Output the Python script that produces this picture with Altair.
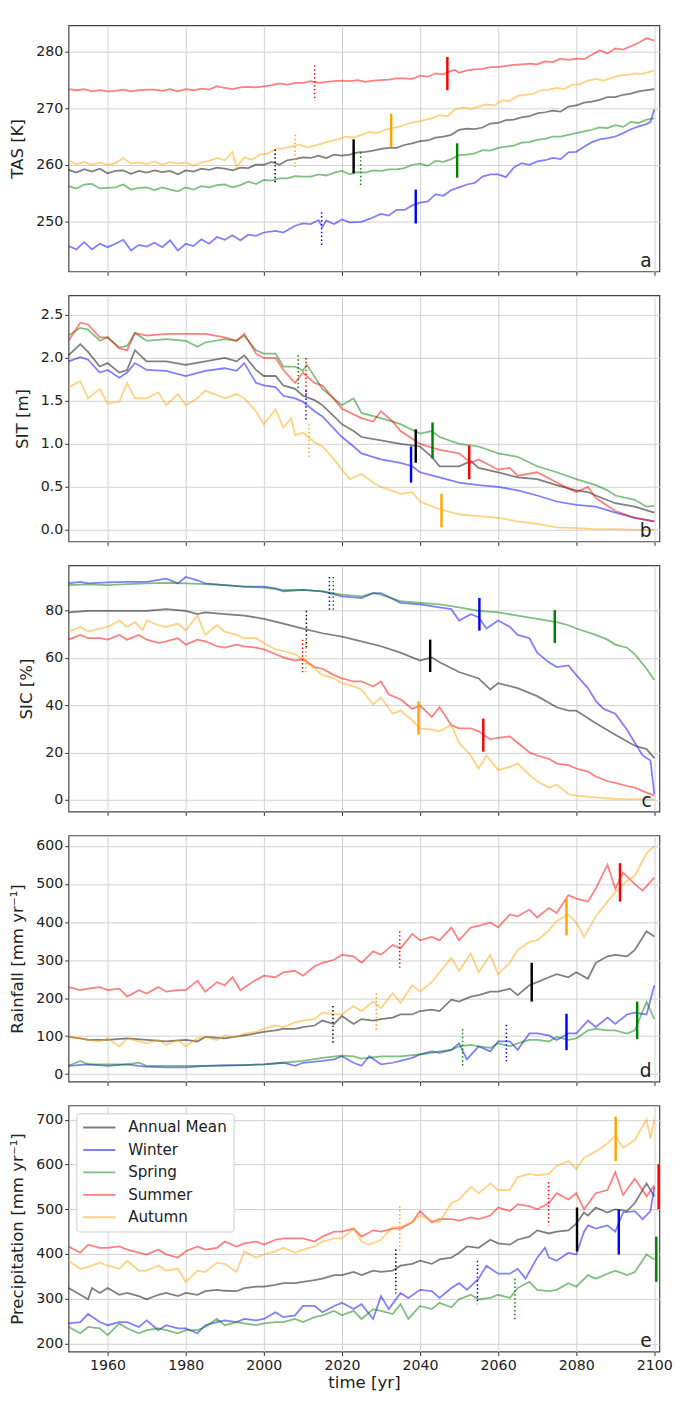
import altair as alt
import pandas as pd

SEASONS = ["Annual Mean", "Winter", "Spring", "Summer", "Autumn"]
COLORS = ["black", "blue", "green", "red", "orange"]
X_TICKS = [1960, 1980, 2000, 2020, 2040, 2060, 2080, 2100]
X_DOMAIN = [1950, 2101.3]

# ---------------- panel a : TAS [K] ----------------
TAS_ANNUAL = [(1950, 259.1), (1952, 258.6), (1954, 259.2), (1956, 258.8), (1958, 259.3), (1960, 258.5), (1962, 258.9), (1964, 259.0), (1966, 258.4), (1968, 258.9), (1970, 258.6), (1972, 259.0), (1974, 258.7), (1976, 258.9), (1978, 258.3), (1980, 259.0), (1982, 258.8), (1984, 259.3), (1986, 259.1), (1988, 259.5), (1990, 259.3), (1992, 259.0), (1994, 259.5), (1996, 259.4), (1998, 260.0), (2000, 260.0), (2002, 260.5), (2004, 260.0), (2006, 260.8), (2008, 261.0), (2010, 261.3), (2012, 261.2), (2014, 261.6), (2016, 261.2), (2018, 261.8), (2020, 261.6), (2022, 261.8), (2024, 262.2), (2026, 262.3), (2028, 262.5), (2030, 262.8), (2032, 263.0), (2034, 263.0), (2036, 263.5), (2038, 263.8), (2040, 264.2), (2042, 264.3), (2044, 264.8), (2046, 265.0), (2048, 265.3), (2050, 266.2), (2052, 266.4), (2054, 266.3), (2056, 266.6), (2058, 267.3), (2060, 267.4), (2062, 267.9), (2064, 268.0), (2066, 268.4), (2068, 268.6), (2070, 269.1), (2072, 269.3), (2074, 269.6), (2076, 269.4), (2078, 270.3), (2080, 270.5), (2082, 271.0), (2084, 271.2), (2086, 271.5), (2088, 272.0), (2090, 272.0), (2092, 272.4), (2094, 272.6), (2096, 273.0), (2098, 273.2), (2100, 273.4)]
TAS_WINTER = [(1950, 245.6), (1952, 245.0), (1954, 246.3), (1956, 245.0), (1958, 246.0), (1960, 245.4), (1962, 246.0), (1964, 246.7), (1966, 244.8), (1968, 245.8), (1970, 245.5), (1972, 246.2), (1974, 245.4), (1976, 246.6), (1978, 244.8), (1980, 246.0), (1982, 245.6), (1984, 246.8), (1986, 246.0), (1988, 247.2), (1990, 246.7), (1992, 247.5), (1994, 246.6), (1996, 247.6), (1998, 247.4), (2000, 248.0), (2003, 248.3), (2005, 248.0), (2008, 249.2), (2010, 249.6), (2012, 249.5), (2014, 250.2), (2015, 249.0), (2016, 250.1), (2018, 249.5), (2020, 250.3), (2022, 249.8), (2025, 249.9), (2027, 250.4), (2030, 251.3), (2032, 251.0), (2034, 252.0), (2036, 252.0), (2038, 252.8), (2040, 253.3), (2042, 253.5), (2044, 254.8), (2046, 254.5), (2048, 255.5), (2050, 256.0), (2052, 256.5), (2054, 256.8), (2056, 257.9), (2058, 258.3), (2060, 258.3), (2062, 257.8), (2064, 259.5), (2066, 260.3), (2068, 260.0), (2070, 260.6), (2072, 260.8), (2074, 261.2), (2076, 261.0), (2078, 262.2), (2080, 262.3), (2082, 263.2), (2084, 264.0), (2086, 264.5), (2088, 264.7), (2090, 265.0), (2092, 265.6), (2094, 266.3), (2096, 266.8), (2098, 267.2), (2099, 267.6), (2100, 269.8)]
TAS_SPRING = [(1950, 256.2), (1952, 255.8), (1954, 256.5), (1956, 256.6), (1958, 255.8), (1960, 255.9), (1962, 256.0), (1964, 256.5), (1966, 255.6), (1968, 255.9), (1970, 256.0), (1972, 255.5), (1974, 256.0), (1976, 255.6), (1978, 255.3), (1980, 256.0), (1982, 255.6), (1984, 256.2), (1986, 256.0), (1988, 256.4), (1990, 256.5), (1992, 256.0), (1994, 256.4), (1996, 257.0), (1998, 256.6), (2000, 257.3), (2002, 257.2), (2004, 257.6), (2006, 257.6), (2008, 258.0), (2010, 257.9), (2012, 257.9), (2014, 258.3), (2016, 258.1), (2018, 258.6), (2020, 258.9), (2022, 258.3), (2024, 258.7), (2026, 258.6), (2028, 259.0), (2030, 258.9), (2032, 259.2), (2034, 259.2), (2036, 259.4), (2038, 260.0), (2040, 260.2), (2042, 259.8), (2044, 260.7), (2046, 260.5), (2048, 261.0), (2050, 261.7), (2052, 261.8), (2054, 262.0), (2056, 262.6), (2058, 262.5), (2060, 263.0), (2062, 263.2), (2064, 263.4), (2066, 263.9), (2068, 264.0), (2070, 264.4), (2072, 264.6), (2074, 265.0), (2076, 265.0), (2078, 265.3), (2080, 265.6), (2082, 265.9), (2084, 266.2), (2086, 266.6), (2088, 266.5), (2090, 267.0), (2092, 266.7), (2094, 267.6), (2096, 267.4), (2098, 268.0), (2100, 268.2)]
TAS_SUMMER = [(1950, 273.4), (1952, 273.2), (1954, 273.4), (1956, 273.0), (1958, 273.2), (1960, 273.0), (1962, 273.1), (1964, 273.3), (1966, 273.0), (1968, 273.2), (1970, 273.3), (1972, 273.3), (1974, 273.1), (1976, 273.4), (1978, 273.0), (1980, 273.4), (1982, 273.2), (1984, 273.5), (1986, 273.3), (1988, 273.9), (1990, 273.6), (1992, 273.4), (1994, 273.7), (1996, 273.8), (1998, 273.7), (2000, 273.9), (2002, 274.1), (2004, 274.4), (2006, 274.2), (2008, 274.5), (2010, 274.5), (2012, 274.8), (2014, 274.5), (2016, 274.7), (2018, 274.8), (2020, 274.9), (2022, 274.8), (2024, 275.0), (2026, 274.7), (2028, 274.9), (2030, 275.0), (2032, 275.1), (2034, 275.3), (2036, 275.3), (2038, 275.2), (2040, 275.8), (2042, 275.6), (2044, 276.2), (2046, 276.0), (2047, 276.4), (2049, 276.8), (2050, 276.3), (2052, 276.7), (2054, 276.9), (2056, 277.0), (2058, 277.3), (2060, 277.3), (2062, 277.5), (2064, 277.7), (2066, 277.8), (2068, 277.9), (2070, 277.8), (2072, 278.3), (2074, 278.2), (2076, 278.8), (2078, 278.6), (2080, 278.8), (2082, 278.7), (2084, 279.5), (2086, 280.3), (2088, 279.7), (2090, 280.6), (2092, 280.4), (2094, 281.0), (2096, 281.6), (2098, 282.4), (2100, 282.0)]
TAS_AUTUMN = [(1950, 260.8), (1952, 260.1), (1954, 260.5), (1956, 260.0), (1958, 260.4), (1960, 260.0), (1962, 260.3), (1964, 261.2), (1966, 260.2), (1968, 260.4), (1970, 260.1), (1972, 260.6), (1974, 260.0), (1976, 260.5), (1978, 260.2), (1980, 260.4), (1982, 259.8), (1984, 260.4), (1986, 260.7), (1988, 261.2), (1990, 260.8), (1992, 262.3), (1993, 259.6), (1995, 261.3), (1997, 260.9), (1999, 261.8), (2001, 262.0), (2003, 262.8), (2005, 262.9), (2007, 263.2), (2009, 263.6), (2011, 263.1), (2013, 263.4), (2015, 263.8), (2017, 264.2), (2019, 264.5), (2021, 265.0), (2023, 264.8), (2025, 265.3), (2027, 265.8), (2029, 265.6), (2031, 266.2), (2033, 266.5), (2035, 266.8), (2037, 267.3), (2039, 267.6), (2041, 267.9), (2043, 268.2), (2045, 268.8), (2047, 268.6), (2049, 269.8), (2051, 270.1), (2053, 269.9), (2055, 270.3), (2057, 270.7), (2059, 270.5), (2061, 271.4), (2063, 271.3), (2065, 272.2), (2067, 272.4), (2069, 272.6), (2071, 273.2), (2073, 273.3), (2075, 273.6), (2077, 273.4), (2079, 274.2), (2081, 274.3), (2083, 274.9), (2085, 275.2), (2087, 274.9), (2089, 275.4), (2091, 275.8), (2093, 275.9), (2095, 276.2), (2097, 276.1), (2099, 276.5), (2100, 276.7)]
# markers: (season, style, year, from, to)
TAS_MARKS = [("Summer", "dot", 2013.0, 277.6, 271.6), ("Summer", "solid", 2047.0, 279.1, 273.2),
             ("Autumn", "dot", 2008.0, 265.3, 259.6), ("Autumn", "solid", 2032.6, 269.0, 263.1),
             ("Annual Mean", "dot", 2002.9, 262.7, 256.9), ("Annual Mean", "solid", 2023.0, 264.5, 258.5),
             ("Spring", "dot", 2024.8, 262.2, 256.2), ("Spring", "solid", 2049.5, 263.8, 257.7),
             ("Winter", "dot", 2014.8, 251.6, 245.7), ("Winter", "solid", 2038.9, 255.6, 249.6)]

# ---------------- panel b : SIT [m] ----------------
SIT_ANNUAL = [(1950, 2.03), (1953, 2.16), (1955, 2.07), (1958, 1.90), (1960, 1.94), (1963, 1.83), (1965, 1.86), (1967, 2.09), (1970, 1.96), (1975, 1.96), (1980, 1.92), (1985, 1.96), (1990, 2.00), (1993, 1.96), (1995, 2.03), (1998, 1.86), (2000, 1.79), (2003, 1.79), (2005, 1.68), (2008, 1.64), (2010, 1.56), (2013, 1.51), (2015, 1.45), (2020, 1.23), (2023, 1.15), (2025, 1.08), (2030, 1.04), (2035, 1.00), (2040, 0.97), (2043, 0.85), (2045, 0.74), (2050, 0.74), (2053, 0.80), (2055, 0.72), (2060, 0.67), (2065, 0.61), (2070, 0.59), (2075, 0.52), (2080, 0.46), (2083, 0.44), (2085, 0.40), (2090, 0.31), (2095, 0.27), (2100, 0.20)]
SIT_WINTER = [(1950, 1.96), (1953, 2.01), (1955, 1.98), (1958, 1.83), (1960, 1.86), (1963, 1.77), (1965, 1.83), (1967, 1.94), (1970, 1.86), (1975, 1.85), (1980, 1.79), (1985, 1.85), (1990, 1.88), (1993, 1.85), (1995, 1.94), (1998, 1.71), (2000, 1.68), (2003, 1.66), (2005, 1.56), (2008, 1.53), (2010, 1.49), (2013, 1.38), (2015, 1.32), (2020, 1.08), (2023, 0.97), (2025, 0.89), (2030, 0.82), (2035, 0.78), (2038, 0.74), (2040, 0.67), (2045, 0.61), (2050, 0.55), (2055, 0.52), (2060, 0.50), (2065, 0.46), (2070, 0.40), (2075, 0.33), (2080, 0.29), (2085, 0.27), (2090, 0.20), (2095, 0.14), (2100, 0.10)]
SIT_SPRING = [(1950, 2.26), (1953, 2.35), (1955, 2.33), (1958, 2.20), (1960, 2.24), (1963, 2.12), (1965, 2.14), (1967, 2.29), (1970, 2.20), (1975, 2.22), (1980, 2.20), (1983, 2.13), (1985, 2.18), (1990, 2.22), (1993, 2.20), (1995, 2.26), (1998, 2.09), (2000, 2.05), (2003, 2.05), (2005, 1.90), (2008, 1.90), (2010, 1.85), (2011, 1.92), (2015, 1.64), (2020, 1.45), (2023, 1.53), (2025, 1.36), (2030, 1.30), (2035, 1.23), (2040, 1.12), (2043, 1.15), (2045, 1.08), (2050, 1.00), (2055, 0.97), (2060, 0.89), (2065, 0.85), (2070, 0.74), (2075, 0.67), (2080, 0.59), (2085, 0.52), (2088, 0.46), (2090, 0.40), (2095, 0.35), (2098, 0.27), (2100, 0.28)]
SIT_SUMMER = [(1950, 2.20), (1953, 2.41), (1955, 2.39), (1958, 2.24), (1960, 2.24), (1963, 2.11), (1965, 2.09), (1967, 2.29), (1970, 2.26), (1975, 2.28), (1980, 2.28), (1985, 2.28), (1990, 2.24), (1993, 2.20), (1995, 2.28), (1998, 2.05), (2000, 2.00), (2003, 2.00), (2005, 1.86), (2008, 1.71), (2010, 1.83), (2013, 1.71), (2015, 1.68), (2020, 1.41), (2025, 1.30), (2028, 1.26), (2030, 1.38), (2033, 1.26), (2035, 1.15), (2040, 1.00), (2045, 0.93), (2050, 0.89), (2053, 0.78), (2055, 0.82), (2060, 0.70), (2063, 0.72), (2065, 0.63), (2070, 0.67), (2075, 0.55), (2078, 0.48), (2080, 0.44), (2083, 0.50), (2085, 0.37), (2090, 0.22), (2095, 0.14), (2100, 0.10)]
SIT_AUTUMN = [(1950, 1.66), (1953, 1.73), (1955, 1.53), (1958, 1.64), (1960, 1.47), (1963, 1.49), (1965, 1.71), (1967, 1.53), (1970, 1.53), (1973, 1.60), (1975, 1.45), (1978, 1.58), (1980, 1.45), (1983, 1.53), (1985, 1.62), (1990, 1.53), (1993, 1.58), (1995, 1.53), (1998, 1.38), (2000, 1.23), (2003, 1.40), (2005, 1.19), (2007, 1.30), (2008, 1.10), (2010, 1.13), (2013, 1.02), (2015, 0.97), (2018, 0.82), (2020, 0.70), (2022, 0.59), (2025, 0.65), (2028, 0.55), (2030, 0.50), (2035, 0.42), (2038, 0.44), (2040, 0.33), (2045, 0.24), (2050, 0.18), (2055, 0.16), (2060, 0.14), (2065, 0.10), (2070, 0.07), (2075, 0.03), (2080, 0.02), (2085, 0.01), (2090, 0.01), (2095, 0.00), (2100, 0.00)]
SIT_MARKS = [("Spring", "dot", 2008.8, 2.03, 1.64), ("Summer", "dot", 2010.8, 2.00, 1.55),
             ("Winter", "dot", 2010.8, 1.62, 1.26), ("Autumn", "dot", 2011.6, 1.23, 0.85),
             ("Winter", "solid", 2037.7, 0.97, 0.55), ("Annual Mean", "solid", 2038.9, 1.17, 0.78),
             ("Spring", "solid", 2043.2, 1.25, 0.83), ("Summer", "solid", 2052.6, 0.98, 0.59),
             ("Autumn", "solid", 2045.5, 0.42, 0.03)]

# ---------------- panel c : SIC [%] ----------------
SIC_ANNUAL = [(1950, 79.3), (1955, 80.0), (1960, 80.0), (1965, 80.0), (1970, 80.0), (1975, 80.7), (1980, 80.0), (1983, 78.6), (1985, 79.3), (1990, 78.6), (1995, 78.0), (2000, 76.6), (2005, 74.6), (2010, 72.5), (2015, 70.5), (2020, 69.1), (2025, 67.1), (2030, 65.0), (2035, 62.3), (2040, 58.9), (2043, 60.3), (2045, 58.2), (2050, 54.1), (2055, 51.4), (2058, 46.7), (2060, 49.4), (2065, 47.3), (2070, 43.9), (2075, 39.2), (2078, 37.8), (2080, 37.8), (2085, 32.4), (2090, 27.6), (2095, 22.9), (2098, 21.5), (2100, 17.7)]
SIC_WINTER = [(1950, 91.6), (1953, 92.2), (1955, 91.6), (1960, 92.0), (1965, 92.2), (1970, 92.2), (1975, 93.6), (1978, 91.6), (1980, 94.3), (1983, 92.9), (1985, 91.6), (1990, 90.9), (1995, 90.2), (2000, 90.2), (2003, 89.5), (2005, 88.2), (2010, 88.8), (2015, 88.2), (2020, 86.1), (2025, 85.4), (2028, 87.5), (2030, 87.5), (2035, 83.4), (2040, 82.7), (2045, 81.4), (2048, 80.7), (2050, 75.9), (2053, 78.6), (2055, 77.3), (2057, 72.5), (2060, 75.9), (2063, 73.2), (2065, 69.8), (2068, 68.4), (2070, 62.3), (2073, 58.2), (2075, 56.2), (2078, 56.9), (2080, 52.8), (2083, 47.3), (2085, 41.9), (2087, 38.5), (2090, 36.5), (2093, 29.7), (2095, 24.2), (2097, 18.8), (2099, 16.7), (2100, 2.4)]
SIC_SPRING = [(1950, 90.9), (1955, 91.2), (1960, 90.9), (1965, 91.3), (1970, 91.6), (1975, 91.8), (1980, 91.6), (1985, 91.3), (1990, 90.9), (1995, 90.2), (2000, 89.8), (2005, 88.8), (2010, 88.8), (2015, 88.2), (2020, 86.8), (2025, 86.1), (2028, 87.5), (2030, 86.8), (2035, 84.1), (2040, 83.4), (2045, 82.7), (2050, 81.4), (2055, 80.0), (2060, 79.3), (2065, 78.0), (2070, 76.6), (2075, 75.2), (2078, 73.9), (2080, 72.5), (2085, 69.8), (2088, 67.8), (2090, 65.7), (2093, 64.4), (2095, 61.6), (2098, 55.5), (2100, 50.7)]
SIC_SUMMER = [(1950, 67.8), (1953, 69.8), (1955, 68.4), (1958, 68.4), (1960, 67.8), (1963, 69.8), (1965, 67.8), (1968, 69.8), (1970, 67.8), (1973, 66.4), (1975, 67.1), (1978, 68.4), (1980, 65.7), (1983, 67.8), (1985, 67.1), (1988, 65.0), (1990, 64.4), (1993, 65.7), (1995, 65.0), (1998, 64.4), (2000, 63.7), (2003, 61.6), (2005, 60.3), (2008, 58.9), (2010, 59.6), (2013, 56.2), (2015, 55.5), (2018, 52.8), (2020, 51.4), (2023, 50.1), (2025, 50.1), (2028, 48.0), (2030, 50.1), (2032, 44.6), (2035, 42.6), (2038, 38.5), (2040, 39.9), (2043, 35.1), (2045, 39.2), (2048, 31.7), (2050, 30.3), (2053, 30.3), (2055, 29.0), (2058, 25.6), (2060, 26.3), (2063, 26.9), (2065, 24.2), (2068, 20.1), (2070, 18.8), (2073, 17.4), (2075, 15.4), (2078, 14.7), (2080, 13.3), (2083, 12.0), (2085, 9.9), (2088, 7.9), (2090, 7.2), (2093, 5.9), (2095, 5.2), (2098, 3.1), (2100, 1.8)]
SIC_AUTUMN = [(1950, 71.2), (1953, 73.2), (1955, 71.2), (1958, 72.5), (1960, 73.2), (1963, 75.9), (1965, 73.2), (1967, 75.2), (1969, 71.8), (1970, 75.9), (1973, 73.9), (1975, 73.2), (1978, 74.6), (1980, 71.8), (1983, 78.0), (1985, 69.8), (1988, 73.9), (1990, 71.2), (1993, 69.8), (1995, 68.4), (1998, 68.4), (2000, 66.4), (2003, 63.7), (2005, 63.0), (2008, 61.6), (2010, 59.6), (2013, 55.5), (2015, 52.8), (2018, 51.4), (2020, 49.4), (2023, 48.0), (2025, 46.7), (2028, 40.5), (2030, 43.3), (2033, 36.5), (2035, 37.8), (2038, 33.7), (2040, 30.3), (2043, 29.7), (2045, 29.0), (2048, 31.7), (2050, 24.2), (2053, 18.8), (2055, 13.3), (2057, 18.8), (2060, 12.7), (2063, 14.0), (2065, 15.4), (2068, 10.6), (2070, 7.9), (2073, 5.2), (2075, 6.5), (2078, 2.4), (2080, 1.8), (2085, 1.1), (2090, 0.4), (2095, 0.3), (2100, 0.1)]
SIC_MARKS = [("Winter", "dot", 2016.8, 94.3, 80.3), ("Spring", "dot", 2017.8, 94.3, 80.3),
             ("Annual Mean", "dot", 2010.9, 80.0, 64.4), ("Summer", "dot", 2009.9, 67.8, 53.5),
             ("Autumn", "dot", 2010.8, 67.8, 53.5), ("Winter", "solid", 2055.2, 85.4, 71.6),
             ("Spring", "solid", 2074.5, 80.3, 66.4), ("Annual Mean", "solid", 2042.6, 67.8, 54.1),
             ("Autumn", "solid", 2039.6, 41.6, 27.6), ("Summer", "solid", 2056.2, 34.4, 20.4)]

# ---------------- panel d : Rainfall ----------------
RAIN_ANNUAL = [(1950, 98), (1953, 94), (1955, 90), (1960, 90), (1965, 94), (1970, 90), (1975, 86), (1980, 90), (1983, 86), (1985, 98), (1990, 94), (1995, 102), (2000, 111), (2003, 115), (2005, 119), (2008, 119), (2010, 124), (2013, 128), (2015, 141), (2018, 132), (2020, 153), (2023, 132), (2025, 145), (2028, 141), (2030, 145), (2033, 149), (2035, 157), (2038, 157), (2040, 166), (2043, 170), (2045, 166), (2048, 196), (2050, 191), (2053, 204), (2055, 208), (2058, 217), (2060, 217), (2063, 225), (2065, 208), (2068, 234), (2070, 242), (2073, 255), (2075, 263), (2078, 255), (2080, 268), (2083, 251), (2085, 293), (2088, 310), (2090, 314), (2093, 310), (2095, 327), (2098, 376), (2100, 362)]
RAIN_WINTER = [(1950, 22), (1955, 26), (1960, 22), (1965, 26), (1968, 22), (1970, 20), (1975, 18), (1980, 18), (1985, 22), (1990, 24), (1995, 24), (2000, 26), (2005, 30), (2008, 22), (2010, 30), (2015, 35), (2018, 39), (2020, 47), (2023, 30), (2025, 22), (2027, 47), (2030, 26), (2033, 30), (2035, 35), (2038, 43), (2040, 52), (2043, 60), (2045, 56), (2048, 64), (2050, 81), (2052, 39), (2055, 73), (2058, 60), (2060, 86), (2063, 86), (2065, 64), (2068, 107), (2070, 107), (2073, 102), (2075, 90), (2078, 107), (2080, 107), (2083, 141), (2085, 124), (2088, 149), (2090, 132), (2093, 157), (2095, 162), (2098, 157), (2100, 234)]
RAIN_SPRING = [(1950, 22), (1953, 35), (1955, 26), (1960, 26), (1965, 26), (1968, 30), (1970, 22), (1975, 22), (1980, 22), (1985, 22), (1990, 22), (1995, 24), (2000, 26), (2005, 30), (2010, 35), (2015, 43), (2020, 49), (2023, 47), (2025, 41), (2030, 47), (2035, 47), (2040, 52), (2043, 56), (2045, 60), (2048, 64), (2050, 73), (2053, 77), (2055, 73), (2058, 69), (2060, 81), (2063, 73), (2065, 81), (2068, 90), (2070, 90), (2073, 86), (2075, 98), (2078, 90), (2080, 94), (2083, 115), (2085, 119), (2088, 115), (2090, 115), (2093, 107), (2095, 115), (2098, 190), (2100, 145)]
RAIN_SUMMER = [(1950, 229), (1953, 221), (1955, 225), (1958, 229), (1960, 221), (1963, 225), (1965, 204), (1968, 221), (1970, 212), (1973, 229), (1975, 217), (1978, 221), (1980, 221), (1983, 246), (1985, 217), (1988, 242), (1990, 234), (1992, 255), (1994, 221), (1997, 242), (2000, 259), (2003, 255), (2005, 268), (2008, 272), (2010, 259), (2013, 284), (2015, 293), (2018, 301), (2020, 314), (2023, 310), (2025, 293), (2028, 323), (2030, 314), (2033, 340), (2035, 331), (2038, 369), (2040, 352), (2043, 361), (2045, 352), (2048, 386), (2050, 352), (2053, 386), (2055, 390), (2058, 399), (2060, 386), (2063, 420), (2065, 415), (2068, 433), (2070, 412), (2073, 437), (2075, 424), (2078, 471), (2080, 462), (2083, 454), (2085, 488), (2088, 551), (2090, 488), (2092, 530), (2095, 500), (2097, 483), (2100, 517)]
RAIN_AUTUMN = [(1950, 98), (1953, 94), (1955, 90), (1958, 86), (1960, 94), (1963, 73), (1965, 94), (1968, 86), (1970, 81), (1973, 90), (1975, 77), (1978, 90), (1980, 73), (1983, 94), (1985, 98), (1988, 90), (1990, 102), (1993, 98), (1995, 107), (1998, 111), (2000, 119), (2003, 128), (2005, 124), (2008, 136), (2010, 141), (2013, 145), (2015, 162), (2018, 157), (2020, 157), (2023, 179), (2025, 166), (2028, 191), (2030, 174), (2033, 213), (2035, 187), (2038, 234), (2040, 217), (2043, 242), (2045, 268), (2048, 306), (2050, 272), (2053, 318), (2055, 268), (2058, 314), (2060, 263), (2063, 293), (2065, 327), (2068, 348), (2070, 352), (2073, 378), (2075, 403), (2078, 420), (2080, 399), (2082, 361), (2085, 415), (2088, 454), (2090, 479), (2093, 509), (2095, 522), (2098, 581), (2100, 600)]
RAIN_MARKS = [("Summer", "dot", 2034.8, 376, 274), ("Autumn", "dot", 2028.8, 213, 111),
              ("Annual Mean", "dot", 2017.7, 179, 77), ("Spring", "dot", 2050.9, 119, 20),
              ("Winter", "dot", 2062.1, 130, 30), ("Annual Mean", "solid", 2068.6, 293, 191),
              ("Autumn", "solid", 2077.5, 462, 365), ("Winter", "solid", 2077.5, 159, 63),
              ("Summer", "solid", 2091.2, 555, 454), ("Spring", "solid", 2095.6, 191, 92)]

# ---------------- panel e : Precipitation ----------------
PREC_ANNUAL = [(1950, 324), (1953, 309), (1955, 299), (1956, 324), (1958, 313), (1960, 324), (1963, 309), (1965, 313), (1968, 306), (1970, 299), (1973, 309), (1975, 313), (1978, 306), (1980, 313), (1983, 309), (1985, 317), (1988, 320), (1990, 318), (1993, 317), (1995, 324), (1998, 327), (2000, 327), (2003, 331), (2005, 335), (2008, 335), (2010, 338), (2013, 342), (2015, 345), (2018, 353), (2020, 353), (2023, 360), (2025, 353), (2028, 363), (2030, 360), (2033, 363), (2035, 374), (2038, 378), (2040, 385), (2043, 378), (2045, 388), (2048, 392), (2050, 403), (2052, 417), (2055, 414), (2058, 432), (2060, 424), (2063, 421), (2065, 432), (2068, 439), (2070, 453), (2073, 446), (2075, 450), (2078, 453), (2080, 468), (2082, 493), (2083, 486), (2085, 504), (2088, 493), (2090, 500), (2093, 496), (2095, 514), (2098, 558), (2100, 529)]
PREC_WINTER = [(1950, 245), (1953, 248), (1955, 266), (1958, 248), (1960, 241), (1963, 248), (1965, 248), (1968, 237), (1970, 252), (1973, 230), (1975, 241), (1978, 234), (1980, 234), (1983, 223), (1985, 241), (1988, 248), (1990, 252), (1993, 248), (1995, 255), (1998, 252), (2000, 255), (2003, 270), (2005, 259), (2008, 263), (2010, 284), (2013, 284), (2015, 270), (2018, 284), (2020, 291), (2023, 277), (2025, 288), (2028, 255), (2030, 306), (2032, 277), (2035, 313), (2037, 302), (2040, 320), (2043, 317), (2045, 302), (2048, 324), (2050, 335), (2052, 320), (2055, 345), (2057, 374), (2060, 356), (2063, 356), (2065, 367), (2067, 345), (2070, 392), (2072, 414), (2073, 392), (2075, 385), (2078, 403), (2080, 399), (2082, 450), (2083, 464), (2085, 457), (2088, 464), (2090, 450), (2092, 493), (2095, 496), (2097, 478), (2099, 496), (2100, 550)]
PREC_SPRING = [(1950, 237), (1953, 223), (1955, 237), (1958, 234), (1960, 219), (1963, 245), (1965, 234), (1968, 223), (1970, 230), (1973, 234), (1975, 230), (1978, 223), (1980, 230), (1983, 230), (1985, 237), (1988, 255), (1990, 241), (1993, 248), (1995, 245), (1998, 241), (2000, 245), (2003, 248), (2005, 248), (2008, 255), (2010, 248), (2013, 259), (2015, 263), (2018, 273), (2020, 263), (2023, 273), (2025, 255), (2028, 277), (2030, 273), (2033, 266), (2035, 288), (2037, 255), (2040, 284), (2043, 277), (2045, 291), (2048, 281), (2050, 299), (2053, 309), (2055, 299), (2058, 302), (2060, 309), (2063, 302), (2065, 324), (2068, 338), (2070, 320), (2073, 317), (2075, 320), (2078, 335), (2080, 327), (2083, 353), (2085, 345), (2088, 356), (2090, 363), (2093, 353), (2095, 360), (2098, 399), (2100, 388)]
PREC_SUMMER = [(1950, 417), (1953, 403), (1955, 421), (1958, 414), (1960, 414), (1963, 417), (1965, 410), (1968, 403), (1970, 399), (1973, 410), (1975, 399), (1978, 392), (1980, 406), (1983, 417), (1985, 410), (1988, 414), (1990, 428), (1993, 417), (1995, 424), (1998, 428), (2000, 421), (2003, 432), (2005, 435), (2008, 435), (2010, 435), (2013, 428), (2015, 439), (2018, 450), (2020, 450), (2023, 457), (2025, 439), (2028, 453), (2030, 450), (2033, 457), (2035, 457), (2038, 471), (2040, 496), (2043, 471), (2045, 478), (2048, 478), (2050, 475), (2053, 482), (2055, 478), (2058, 486), (2060, 504), (2063, 496), (2065, 511), (2068, 507), (2070, 500), (2073, 514), (2075, 536), (2078, 522), (2080, 536), (2082, 500), (2085, 536), (2088, 543), (2090, 583), (2092, 532), (2095, 568), (2098, 529), (2100, 554)]
PREC_AUTUMN = [(1950, 385), (1953, 367), (1955, 371), (1958, 381), (1960, 374), (1963, 367), (1965, 385), (1968, 363), (1970, 363), (1973, 374), (1975, 363), (1978, 367), (1980, 338), (1983, 363), (1985, 360), (1988, 381), (1990, 378), (1993, 360), (1995, 406), (1998, 392), (2000, 399), (2003, 406), (2005, 414), (2008, 403), (2010, 410), (2013, 417), (2015, 428), (2018, 435), (2020, 435), (2023, 457), (2025, 428), (2027, 421), (2030, 432), (2033, 460), (2035, 460), (2038, 471), (2040, 486), (2043, 475), (2045, 471), (2048, 514), (2050, 522), (2053, 550), (2055, 536), (2058, 558), (2060, 543), (2063, 543), (2065, 572), (2068, 579), (2070, 576), (2073, 579), (2075, 597), (2078, 608), (2080, 590), (2082, 615), (2085, 629), (2088, 647), (2090, 665), (2092, 637), (2095, 655), (2098, 701), (2099, 658), (2100, 701)]
PREC_MARKS = [("Autumn", "dot", 2034.8, 507, 406), ("Annual Mean", "dot", 2033.8, 410, 312),
              ("Summer", "dot", 2072.9, 561, 464), ("Winter", "dot", 2054.7, 385, 288),
              ("Spring", "dot", 2064.3, 345, 252), ("Annual Mean", "solid", 2080.2, 504, 406),
              ("Winter", "solid", 2090.9, 500, 399), ("Autumn", "solid", 2090.1, 707, 608),
              ("Summer", "solid", 2101.1, 601, 500), ("Spring", "solid", 2100.5, 439, 338)]

PANELS = [
    dict(series=[TAS_ANNUAL, TAS_WINTER, TAS_SPRING, TAS_SUMMER, TAS_AUTUMN], marks=TAS_MARKS,
         title="TAS [K]", domain=[241.1, 284.7], ticks=[250, 260, 270, 280], fmt="d", letter="a"),
    dict(series=[SIT_ANNUAL, SIT_WINTER, SIT_SPRING, SIT_SUMMER, SIT_AUTUMN], marks=SIT_MARKS,
         title="SIT [m]", domain=[-0.135, 2.728], ticks=[0, 0.5, 1.0, 1.5, 2.0, 2.5], fmt=".1f", letter="b"),
    dict(series=[SIC_ANNUAL, SIC_WINTER, SIC_SPRING, SIC_SUMMER, SIC_AUTUMN], marks=SIC_MARKS,
         title="SIC [%]", domain=[-4.9, 99.2], ticks=[0, 20, 40, 60, 80], fmt="d", letter="c"),
    dict(series=[RAIN_ANNUAL, RAIN_WINTER, RAIN_SPRING, RAIN_SUMMER, RAIN_AUTUMN], marks=RAIN_MARKS,
         title="Rainfall [mm yr\u207b\u00b9]", domain=[-19.5, 628], ticks=[0, 100, 200, 300, 400, 500, 600], fmt="d", letter="d"),
    dict(series=[PREC_ANNUAL, PREC_WINTER, PREC_SPRING, PREC_SUMMER, PREC_AUTUMN], marks=PREC_MARKS,
         title="Precipitation [mm yr\u207b\u00b9]", domain=[182, 732], ticks=[200, 300, 400, 500, 600, 700], fmt="d", letter="e"),
]

W, H = 605, 252
COLOR_SCALE = alt.Scale(domain=SEASONS, range=COLORS)


def build_panel(p, last):
    rows = []
    for season, pts in zip(SEASONS, p["series"]):
        for yr, v in pts:
            rows.append({"season": season, "year": yr, "value": v})
    df = pd.DataFrame(rows)
    mdf = pd.DataFrame(p["marks"], columns=["season", "style", "year", "value", "value2"])

    xax = alt.Axis(values=X_TICKS, format="d", grid=True, labels=last,
                   title="time [yr]" if last else None, labelFlush=False)
    x = alt.X("year:Q", scale=alt.Scale(domain=X_DOMAIN, nice=False, zero=False), axis=xax)
    yax = alt.Axis(values=p["ticks"], format=p["fmt"], title=p["title"], grid=True)
    y = alt.Y("value:Q", scale=alt.Scale(domain=p["domain"], nice=False, zero=False), axis=yax)

    if last:
        legend = alt.Legend(title=None, orient="top-left", offset=8, symbolType="stroke",
                            symbolStrokeWidth=2, symbolSize=1089, symbolOpacity=0.5,
                            labelFontSize=15.5, labelFont="DejaVu Sans", labelColor="#222",
                            labelOffset=12, padding=6, rowPadding=6, clipHeight=17,
                            fillColor="white", strokeColor="#cccccc", cornerRadius=3)
    else:
        legend = None

    lines = alt.Chart(df).mark_line(strokeWidth=1.8, opacity=0.5).encode(
        x=x, y=y, color=alt.Color("season:N", scale=COLOR_SCALE, legend=legend))
    solid = alt.Chart(mdf[mdf["style"] == "solid"]).mark_rule(strokeWidth=2.5).encode(
        x=x, y=y, y2="value2:Q", color=alt.Color("season:N", scale=COLOR_SCALE, legend=None))
    dotted = alt.Chart(mdf[mdf["style"] == "dot"]).mark_rule(strokeWidth=1.5, strokeDash=[1.5, 2.5]).encode(
        x=x, y=y, y2="value2:Q", color=alt.Color("season:N", scale=COLOR_SCALE, legend=None))
    label = alt.Chart(pd.DataFrame({"t": [p["letter"]]})).mark_text(
        align="right", baseline="alphabetic", fontSize=19, font="DejaVu Sans", color="#222").encode(
        text="t:N", x=alt.value(W - 8), y=alt.value(H - 5))
    return alt.layer(lines, solid, dotted, label).properties(width=W, height=H)


panels = [build_panel(p, i == len(PANELS) - 1) for i, p in enumerate(PANELS)]

chart = alt.vconcat(*panels, spacing=17.5).resolve_scale(
    x="independent", y="independent", color="independent"
).properties(
    padding={"left": 0, "top": 0, "right": 4, "bottom": 0}
).configure_view(
    stroke="#444", strokeWidth=1.2
).configure_axis(
    domain=False, tickColor="#333", tickSize=4, tickWidth=1,
    labelFont="DejaVu Sans", labelFontSize=14.5, labelColor="#222", labelPadding=2,
    titleFont="DejaVu Sans", titleFontSize=17, titleFontWeight="normal", titleColor="#222",
    titlePadding=9, gridColor="#d0d0d0", gridWidth=1
).configure_axisX(
    labelPadding=3, titlePadding=3
)

chart.save("out.html", embed_options={"renderer": "svg", "actions": False})
